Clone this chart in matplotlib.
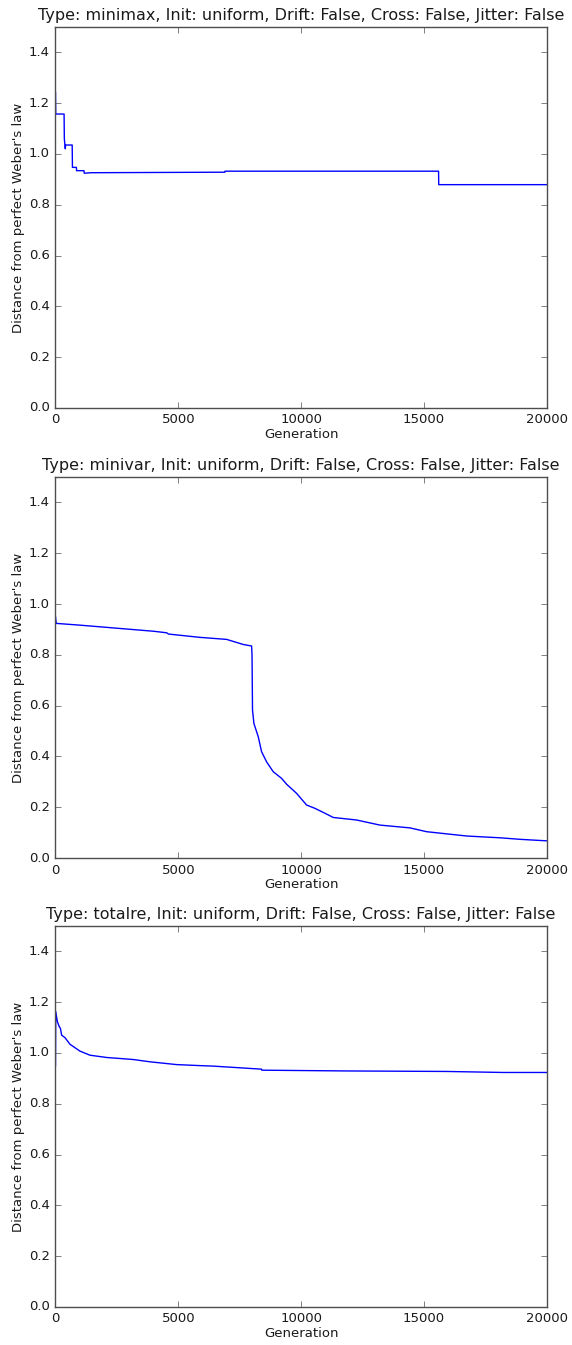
import matplotlib
matplotlib.use("Agg")
import matplotlib.pyplot as plt

plt.style.use("classic")
plt.rcParams["axes.edgecolor"] = "0.3"
plt.rcParams["xtick.color"] = "0.3"
plt.rcParams["ytick.color"] = "0.3"
plt.rcParams["text.color"] = "0.1"
plt.rcParams["axes.labelcolor"] = "0.1"

# minimax run (stepwise best-so-far)
minimax_gen = [0, 10, 350, 360, 400, 410, 680, 690, 850, 860, 1160, 1170, 1460,
               6897, 6900, 15593, 15600, 20000]
minimax_val = [1.242, 1.157, 1.157, 1.06, 1.02, 1.035, 1.035, 0.947, 0.947, 0.934,
               0.934, 0.924, 0.926, 0.928, 0.932, 0.932, 0.879, 0.879]

# minivar run
minivar_gen = [0, 30, 1000, 2000, 3000, 4000, 4525, 4600, 5880, 6965, 7508, 7643, 7983,
               8000, 8020, 8077, 8253, 8389, 8593, 8864, 9203, 9406, 9813, 10220,
               10559, 10898, 11305, 12256, 13205, 14425, 15104, 16732, 18087, 18901,
               19987, 20000]
minivar_val = [0.95, 0.924, 0.917, 0.909, 0.901, 0.893, 0.887, 0.882, 0.869, 0.861,
               0.845, 0.841, 0.835, 0.80, 0.583, 0.530, 0.478, 0.419, 0.379, 0.340,
               0.314, 0.291, 0.255, 0.209, 0.196, 0.180, 0.160, 0.150, 0.130, 0.119,
               0.104, 0.087, 0.080, 0.074, 0.068, 0.068]

# totalre run
totalre_gen = [0, 10, 75, 150, 200, 250, 387, 590, 997, 1404, 2083, 3166, 3845, 4930,
               5880, 6421, 8390, 8400, 11850, 15920, 18225, 20000]
totalre_val = [0.95, 1.163, 1.124, 1.104, 1.097, 1.07, 1.06, 1.034, 1.007, 0.991,
               0.982, 0.974, 0.965, 0.954, 0.950, 0.948, 0.936, 0.932, 0.929, 0.927,
               0.923, 0.923]

run_types = ["minimax", "minivar", "totalre"]
runs = [(minimax_gen, minimax_val), (minivar_gen, minivar_val),
        (totalre_gen, totalre_val)]
yticks = [0.0, 0.2, 0.4, 0.6, 0.8, 1.0, 1.2, 1.4]
xticks = [0, 5000, 10000, 15000, 20000]

fig = plt.figure(figsize=(5.72, 13.45), dpi=100, facecolor="white")
bottoms = [0.6967, 0.362, 0.0283]
for i in range(3):
    ax = fig.add_axes([0.097, bottoms[i], 0.859, 0.2833])
    g, v = runs[i]
    ax.plot(g, v, "b-", linewidth=1)
    ax.set_xlim(0, 20000)
    ax.set_ylim(0, 1.5)
    ax.set_xticks(xticks)
    ax.set_yticks(yticks)
    ax.tick_params(labelsize=9.5, labelcolor="0.1")
    ax.set_xlabel("Generation", fontsize=9.5, labelpad=1)
    ax.set_ylabel("Distance from perfect Weber's law", fontsize=9.5, labelpad=3)
    ax.set_title("Type: %s, Init: uniform, Drift: False, Cross: False, Jitter: False"
                 % run_types[i], fontsize=11.5)

fig.savefig("out.png", dpi=100, facecolor="white")
